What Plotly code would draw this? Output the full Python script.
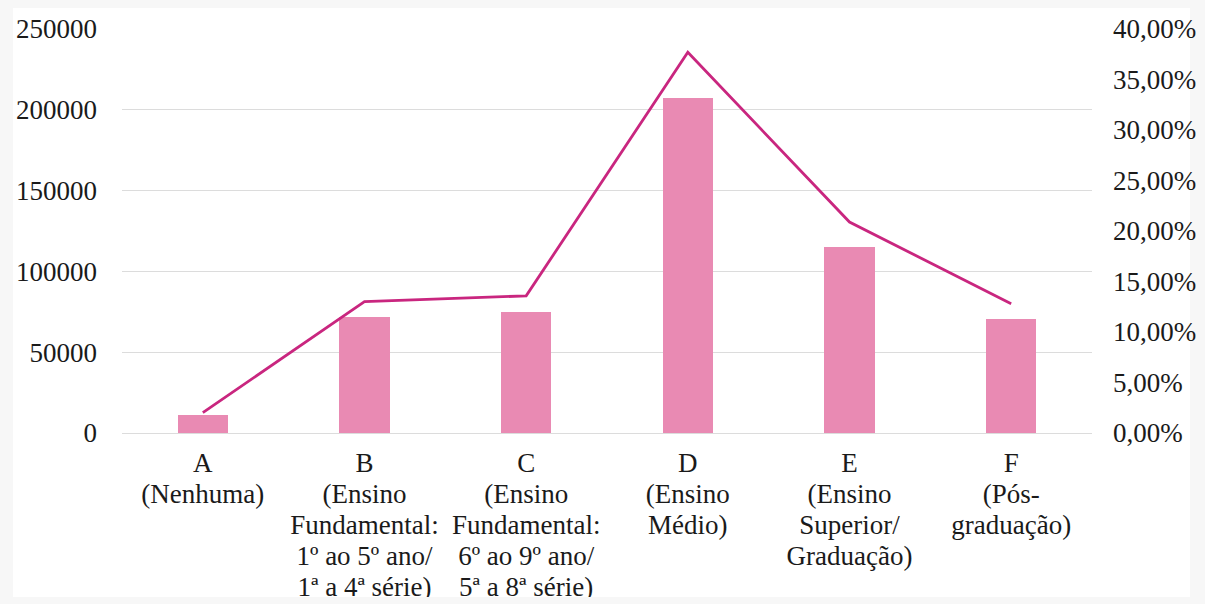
import plotly.graph_objects as go

# Escolaridade: quantidade (barras) e percentual (linha)
categorias = [
    "A<br>(Nenhuma)",
    "B<br>(Ensino<br>Fundamental:<br>1º ao 5º ano/<br>1ª a 4ª série)",
    "C<br>(Ensino<br>Fundamental:<br>6º ao 9º ano/<br>5ª a 8ª série)",
    "D<br>(Ensino<br>Médio)",
    "E<br>(Ensino<br>Superior/<br>Graduação)",
    "F<br>(Pós-<br>graduação)",
]
quantidade = [11100, 71600, 74700, 207300, 114900, 70400]
percentual = [0.0202, 0.1302, 0.1358, 0.3769, 0.2089, 0.1280]

ticks_esquerda = [0, 50000, 100000, 150000, 200000, 250000]
ticks_direita = [0, 0.05, 0.10, 0.15, 0.20, 0.25, 0.30, 0.35, 0.40]

FONTE = "Liberation Serif, Times New Roman, serif"
COR_TEXTO = "#1a1a1a"
COR_BARRA = "#E98AB3"
COR_LINHA = "#C9267F"
COR_GRADE = "#DCDCDC"
TAM = 27

x = list(range(len(categorias)))

# Domínio vertical do gráfico principal; abaixo dele fica a faixa dos rótulos
DOM_PRINC = [0.2887, 1.0]
ALTURA_ROTULOS = 164   # altura em px da faixa de rótulos
LINHA_PX = 31          # entrelinha dos rótulos

fig = go.Figure()
fig.add_trace(go.Bar(
    x=x, y=quantidade, width=0.31,
    marker=dict(color=COR_BARRA, line=dict(width=0)),
    xaxis="x", yaxis="y", showlegend=False, hoverinfo="x+y",
))
fig.add_trace(go.Scatter(
    x=x, y=percentual, mode="lines",
    line=dict(color=COR_LINHA, width=2.8),
    xaxis="x", yaxis="y2", showlegend=False,
))

# Rótulos de categoria, linha a linha, recortados na borda inferior
rx, ry, rt = [], [], []
for i, rotulo in enumerate(categorias):
    for k, parte in enumerate(rotulo.split("<br>")):
        rx.append(i)
        ry.append(-32.5 - k * LINHA_PX)
        rt.append(parte)
fig.add_trace(go.Scatter(
    x=rx, y=ry, text=rt, mode="text", textposition="middle center",
    textfont=dict(family=FONTE, size=TAM, color=COR_TEXTO),
    xaxis="x2", yaxis="y3", cliponaxis=True, showlegend=False,
    hoverinfo="skip",
))

fig.update_layout(
    width=1205, height=604,
    margin=dict(l=122, r=113, t=29, b=7, autoexpand=False),
    paper_bgcolor="#F7F7F7",
    plot_bgcolor="rgba(0,0,0,0)",
    separators=",.",
    bargap=0,
    font=dict(family=FONTE, size=TAM, color=COR_TEXTO),
    xaxis=dict(
        domain=[0, 1], range=[-0.5, 5.5], anchor="y",
        showticklabels=False, showgrid=False, automargin=False,
        zeroline=False, showline=False, ticks="",
    ),
    yaxis=dict(
        domain=DOM_PRINC, anchor="x", automargin=False,
        range=[0, 250000], tickvals=ticks_esquerda, tickformat="d",
        showgrid=True, gridcolor=COR_GRADE, gridwidth=1.2,
        zeroline=True, zerolinecolor=COR_GRADE, zerolinewidth=1.2,
        showline=False, ticks="", ticklabelstandoff=24,
        tickfont=dict(family=FONTE, size=TAM, color=COR_TEXTO),
    ),
    yaxis2=dict(
        domain=DOM_PRINC, anchor="x", automargin=False,
        range=[0, 0.40], tickvals=ticks_direita, tickformat=".2%",
        overlaying="y", side="right", showgrid=False, zeroline=False,
        showline=False, ticks="", ticklabelstandoff=20,
        tickfont=dict(family=FONTE, size=TAM, color=COR_TEXTO),
    ),
    xaxis2=dict(
        domain=[0, 1], range=[-0.5, 5.5], anchor="y3", visible=False,
        automargin=False,
    ),
    yaxis3=dict(
        domain=[0, DOM_PRINC[0]], range=[-ALTURA_ROTULOS, 0], anchor="x2",
        visible=False, automargin=False,
    ),
    shapes=[dict(
        type="rect", xref="paper", yref="paper",
        x0=-0.1124, x1=1.1010, y0=0, y1=1.037,
        fillcolor="white", line=dict(width=0), layer="below",
    )],
)

fig.write_html("out.html")
